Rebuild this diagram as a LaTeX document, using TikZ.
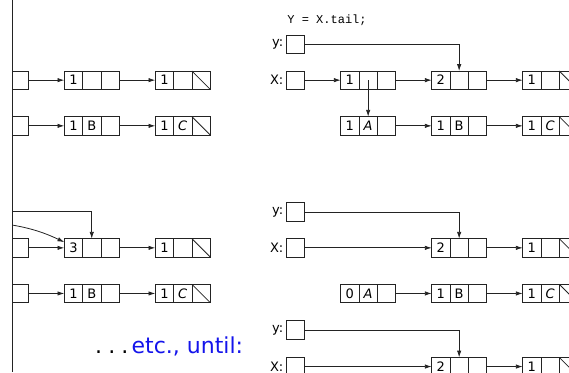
\documentclass[tikz,border=0pt]{standalone}
\usepackage{fontspec}
\setmainfont{DejaVu Sans}
\newfontfamily\codefont{Liberation Mono}
\usetikzlibrary{arrows.meta}
\definecolor{linegray}{RGB}{35,35,35}
\definecolor{noteblue}{RGB}{20,20,235}
\tikzset{
  cell/.style={draw=linegray, line width=0.8pt, minimum size=18.3pt,
    inner sep=0pt, outer sep=0pt, font=\fontsize{13}{14}\selectfont},
  ptr/.style={draw=linegray, line width=0.8pt, -{Latex[length=6.8pt,width=4.4pt]}},
  lbl/.style={anchor=east, inner sep=0pt, font=\fontsize{13}{14}\selectfont},
  nullbar/.style={draw=linegray, line width=0.8pt}
}
% one empty pointer cell: name, x, top y
\newcommand\ptrbox[3]{\node[cell, anchor=north west] (#1) at (#2,#3) {};}
% a three-field list node: name, x, top y, field 1, field 2, field 3
\newcommand\lnode[6]{%
  \node[cell, anchor=north west] (#1-1) at (#2,#3) {#4};
  \node[cell, anchor=west] (#1-2) at (#1-1.east) {#5};
  \node[cell, anchor=west] (#1-3) at (#1-2.east) {#6};}
% null tail pointer
\newcommand\nullcell[1]{\draw[nullbar] (#1-3.north west) -- (#1-3.south east);}
\begin{document}
\begin{tikzpicture}[x=1pt, y=-1pt]
\useasboundingbox (0,0) rectangle (569,372);

% divider
\coordinate (divtop) at (12.7,0);
\coordinate (divbot) at (12.7,372);
\draw[linegray, line width=0.9pt] (divtop) -- (divbot);

% ---------- left column (continued from the previous step) ----------
\begin{scope}
\clip (12.7,0) rectangle (280,372);
% upper pair of lists
\ptrbox{lx1}{9.6}{71}
\lnode{la}{64.3}{71}{1}{}{}
\lnode{lb}{155.3}{71}{1}{}{}
\nullcell{lb}
\draw[ptr] (lx1.east) -- (la-1.west);
\draw[ptr] (la-3.east) -- (lb-1.west);

\ptrbox{lp2}{9.6}{116.7}
\lnode{lc}{64.3}{116.7}{1}{B}{}
\lnode{ld}{155.3}{116.7}{1}{\itshape C}{}
\nullcell{ld}
\draw[ptr] (lp2.east) -- (lc-1.west);
\draw[ptr] (lc-3.east) -- (ld-1.west);

% lower pair of lists
\ptrbox{lx3}{9.6}{238.7}
\lnode{le}{64.3}{238.7}{3}{}{}
\lnode{lf}{155.3}{238.7}{1}{}{}
\nullcell{lf}
\draw[ptr] (lx3.east) -- (le-1.west);
\draw[ptr] (le-3.east) -- (lf-1.west);
\coordinate (hfrom) at (-10,211);
\draw[ptr] (hfrom) -| (le-2.north);
\coordinate (cfrom) at (-10,222.5);
\draw[ptr] (cfrom) .. controls (25,225) and (45,233) .. (le-1.148);

\ptrbox{lp4}{9.6}{284.3}
\lnode{lg}{64.3}{284.3}{1}{B}{}
\lnode{lh}{155.3}{284.3}{1}{\itshape C}{}
\nullcell{lh}
\draw[ptr] (lp4.east) -- (lg-1.west);
\draw[ptr] (lg-3.east) -- (lh-1.west);
\end{scope}

% ---------- right column ----------
\node[font=\codefont\fontsize{12}{13}\selectfont, inner sep=0pt] (code) at (327,20.5) {Y = X.tail;};

% after Y = X.tail
\ptrbox{y1}{286}{35.1}
\ptrbox{x1}{286}{71}
\node[lbl] (y1l) at (283.5,44.2) {y:};
\node[lbl] (x1l) at (283.5,80.2) {X:};
\lnode{ra}{340.7}{71}{1}{}{}
\lnode{rb}{431.7}{71}{2}{}{}
\lnode{rc}{522.7}{71}{1}{}{}
\nullcell{rc}
\draw[ptr] (x1.east) -- (ra-1.west);
\draw[ptr] (ra-3.east) -- (rb-1.west);
\draw[ptr] (rb-3.east) -- (rc-1.west);
\draw[ptr] (y1.east) -| (rb-2.north);

\lnode{sa}{340.7}{116.7}{1}{\itshape A}{}
\lnode{sb}{431.7}{116.7}{1}{B}{}
\lnode{sc}{522.7}{116.7}{1}{\itshape C}{}
\nullcell{sc}
\draw[ptr] (ra-2.center) -- (sa-2.north);
\draw[ptr] (sa-3.east) -- (sb-1.west);
\draw[ptr] (sb-3.east) -- (sc-1.west);

% next step
\ptrbox{y2}{286}{202.8}
\ptrbox{x2}{286}{238.7}
\node[lbl] (y2l) at (283.5,211.9) {y:};
\node[lbl] (x2l) at (283.5,247.9) {X:};
\lnode{mb}{431.7}{238.7}{2}{}{}
\lnode{mc}{522.7}{238.7}{1}{}{}
\nullcell{mc}
\draw[ptr] (x2.east) -- (mb-1.west);
\draw[ptr] (mb-3.east) -- (mc-1.west);
\draw[ptr] (y2.east) -| (mb-2.north);

\lnode{na}{340.7}{284.3}{0}{\itshape A}{}
\lnode{nb}{431.7}{284.3}{1}{B}{}
\lnode{nc}{522.7}{284.3}{1}{\itshape C}{}
\nullcell{nc}
\draw[ptr] (na-3.east) -- (nb-1.west);
\draw[ptr] (nb-3.east) -- (nc-1.west);

% final step
\ptrbox{y3}{286}{320.8}
\ptrbox{x3}{286}{357.4}
\node[lbl] (y3l) at (283.5,329.9) {y:};
\node[lbl] (x3l) at (283.5,366.5) {X:};
\lnode{pb}{431.7}{357.4}{2}{}{}
\lnode{pc}{522.7}{357.4}{1}{}{}
\nullcell{pc}
\draw[ptr] (x3.east) -- (pb-1.west);
\draw[ptr] (pb-3.east) -- (pc-1.west);
\draw[ptr] (y3.east) -| (pb-2.north);

\node[anchor=base east, inner sep=0pt, font=\fontsize{22}{24}\selectfont] (until) at (243.3,353)
  {.\hspace{0.28em}.\hspace{0.28em}.\hspace{0.15em}\textcolor{noteblue}{etc., until:}};
\end{tikzpicture}
\end{document}
